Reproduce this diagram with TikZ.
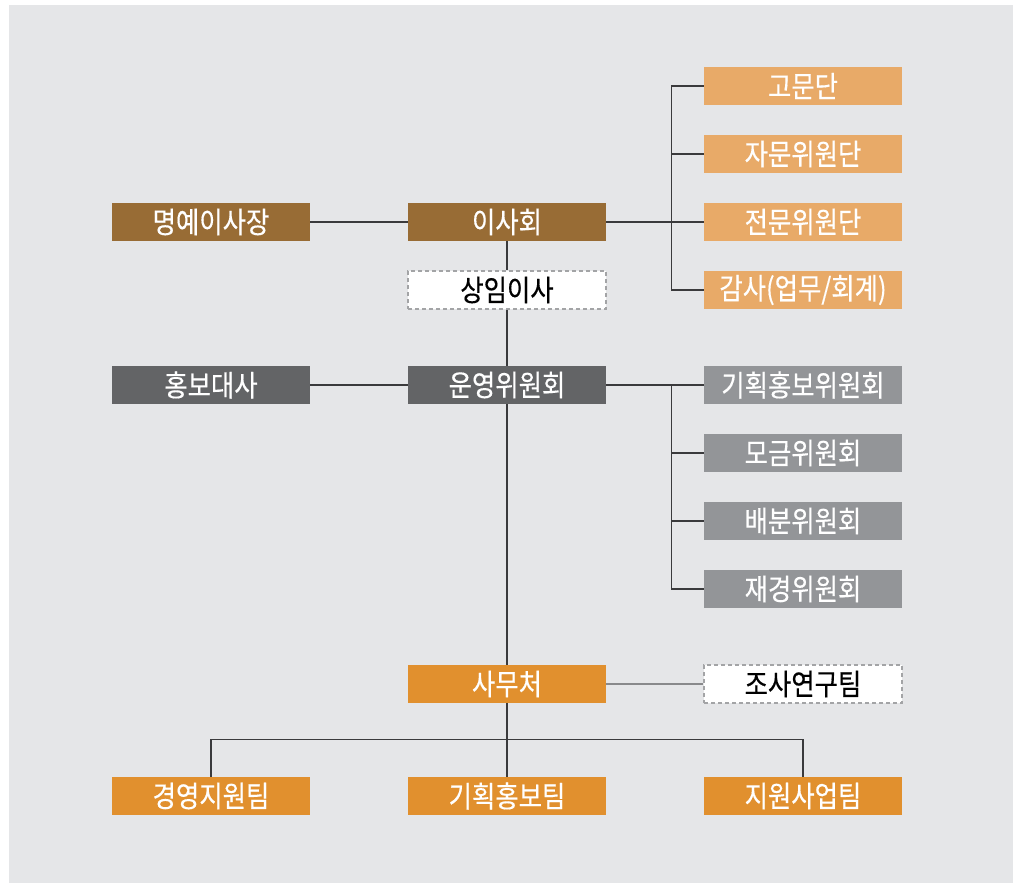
\documentclass[tikz,border=0pt]{standalone}
\usepackage{fontspec}
\usepackage{tikz}
\newfontfamily\krfont[FakeStretch=0.86,FakeBold=0.4]{Noto Sans CJK KR}
\definecolor{bgc}{HTML}{E5E6E8}
\definecolor{brownc}{HTML}{986C35}
\definecolor{lightc}{HTML}{E8AA68}
\definecolor{darkc}{HTML}{636466}
\definecolor{greyc}{HTML}{939598}
\definecolor{orangec}{HTML}{E1902E}
\definecolor{dashc}{HTML}{A3A4A6}
\definecolor{linec}{HTML}{3A3A3C}
\definecolor{softc}{HTML}{88898B}
\tikzset{
  box/.style={minimum width=198pt, minimum height=38pt, inner sep=0pt,
    font=\krfont\fontsize{29.5}{29.5}\selectfont, text=white},
  brownbox/.style={box, fill=brownc},
  lightbox/.style={box, fill=lightc},
  darkbox/.style={box, fill=darkc},
  greybox/.style={box, fill=greyc},
  orangebox/.style={box, fill=orangec},
  dashbox/.style={box, fill=white, text=black, draw=dashc, line width=1.2pt, dash pattern=on 4pt off 3pt},
  link/.style={draw=linec, line width=1.2pt}
}
\begin{document}
\begin{tikzpicture}[x=1pt,y=-1pt]
            \useasboundingbox (0,0) rectangle (1013,884);
            \fill[white] (0,0) rectangle (1013,884);
            \fill[bgc] (9,5) rectangle (1013,883);
            \path
            (211,222) node[brownbox] (honor) {명예이사장}
            (507,222) node[brownbox] (board) {이사회}
            (803,86)  node[lightbox] (adv) {고문단}
            (803,154) node[lightbox] (consult) {자문위원단}
            (803,222) node[lightbox] (expert) {전문위원단}
            (803,290) node[lightbox] (audit) {감사(업무/회계)}
            (507,290) node[dashbox] (exec) {상임이사}
            (211,385) node[darkbox] (ambas) {홍보대사}
            (507,385) node[darkbox] (steer) {운영위원회}
            (803,385) node[greybox] (plan) {기획홍보위원회}
            (803,453) node[greybox] (fund) {모금위원회}
            (803,521) node[greybox] (dist) {배분위원회}
            (803,589) node[greybox] (fin) {재경위원회}
            (507,684) node[orangebox] (office) {사무처}
            (803,684) node[dashbox] (research) {조사연구팀}
            (211,796) node[orangebox] (mgmt) {경영지원팀}
            (507,796) node[orangebox] (pr) {기획홍보팀}
            (803,796) node[orangebox] (support) {지원사업팀};
            \draw[link] (honor)--(board);
            \draw[link] (board)--(expert);
            \draw[link] (adv.west)-|([xshift=-32pt]audit.west)--(audit.west);
            \draw[link] (consult.west)--++(-32,0);
            \draw[link] (board)--(exec);
            \draw[link] (exec)--(steer);
            \draw[link] (ambas)--(steer);
            \draw[link] (steer)--(plan);
            \draw[link] (plan.west)-|([xshift=-32pt]fin.west)--(fin.west);
            \draw[link] (fund.west)--++(-32,0);
            \draw[link] (dist.west)--++(-32,0);
            \draw[link] (steer)--(office);
            \draw[link,draw=softc] (office)--(research);
            \draw[link] (office)--(pr);
            \draw[link] (mgmt.north)--++(0,-37)-|(support.north);
            \end{tikzpicture}
\end{document}
